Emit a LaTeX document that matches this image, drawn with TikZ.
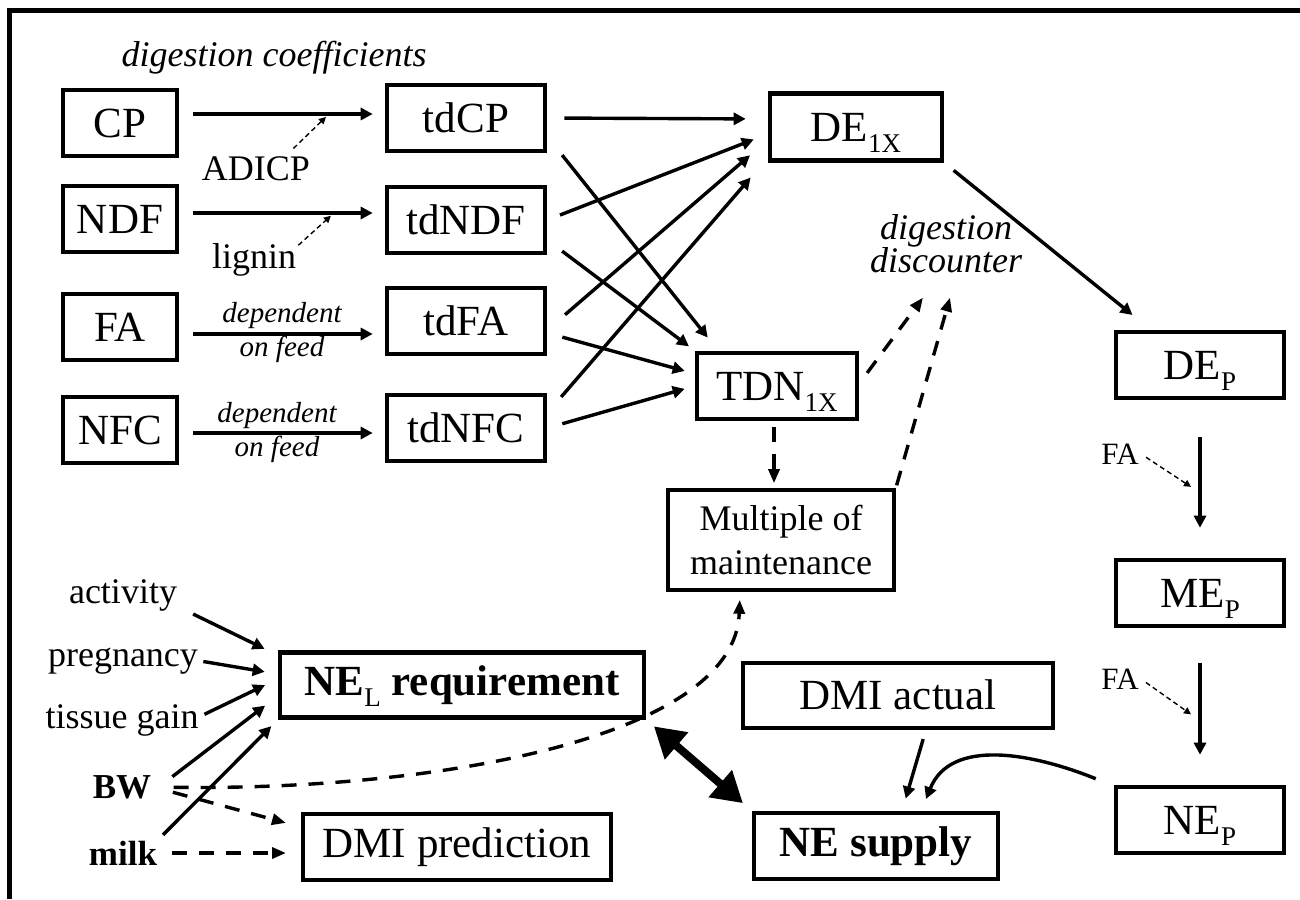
\documentclass[tikz,border=0pt]{standalone}
\usepackage{fontspec}
\setmainfont{Liberation Serif}
\usetikzlibrary{calc, positioning, arrows.meta}
\newcommand{\lowtag}[1]{\raisebox{-5.5pt}[0pt][0pt]{\fontsize{13.5}{13.5}\selectfont #1}}

\begin{document}
\begin{tikzpicture}
      [x=0.5pt, y=-0.5pt, text centered,
       box/.style={draw, rectangle, line width=2.3pt, inner sep=0pt, minimum height=33pt, align=center, font=\fontsize{21.5}{24}\selectfont},
       feed/.style={box, minimum width=57pt},
       digest/.style={box, minimum width=79pt},
       energy/.style={box, minimum width=84pt},
       lbl/.style={inner sep=1pt, font=\fontsize{18}{20}\selectfont},
       ilbl/.style={inner sep=1pt, align=center, font=\fontsize{18}{16.5}\selectfont\itshape},
       blbl/.style={inner sep=1pt, font=\fontsize{17.5}{20}\selectfont\bfseries},
       note/.style={inner sep=0pt, align=center, font=\fontsize{14.5}{17}\selectfont\itshape},
       falbl/.style={inner sep=1pt, font=\fontsize{15.5}{17}\selectfont},
       arr/.style={-{Triangle[length=6pt, width=6pt]}, line width=1.7pt},
       darr/.style={-{Triangle[length=7pt, width=5.5pt]}, line width=1.7pt, dash pattern=on 7.5pt off 6pt},
       hint/.style={-{Triangle[length=3.5pt, width=3.5pt]}, line width=0.7pt, dash pattern=on 2.5pt off 1.7pt},
       both/.style={{Triangle[length=15pt, width=17pt]}-{Triangle[length=15pt, width=17pt]}, line width=4pt}]

      \useasboundingbox (0,0) rectangle (1300,899);

      % frame
      \draw[line width=2.75pt] (9.5,899) -- (9.5,10.5) -- (1300,10.5);

      %nodes
      \node[feed] (cp)  at (120,123) {CP};
      \node[feed] (ndf) at (120,219) {NDF};
      \node[feed] (fa)  at (120,327) {FA};
      \node[feed] (nfc) at (120,430) {NFC};

      \node[digest] (tdcp)  at (466,118) {tdCP};
      \node[digest] (tdndf) at (466,220) {tdNDF};
      \node[digest] (tdfa)  at (466,321) {tdFA};
      \node[digest] (tdnfc) at (466,428) {tdNFC};

      \node[box, minimum width=86pt, minimum height=33.5pt] (de1x) at (856,127) {DE\lowtag{1X}};
      \node[box, minimum width=80pt] (tdn) at (777,386) {TDN\lowtag{1X}};
      \node[box, minimum width=113pt, minimum height=50pt, line width=1.8pt, font=\fontsize{18}{22}\selectfont] (mult) at (781,540) {Multiple of\\maintenance};

      \node[energy] (dep) at (1200,365) {DE\lowtag{P}};
      \node[energy] (mep) at (1200,593) {ME\lowtag{P}};
      \node[energy] (nep) at (1200,820) {NE\lowtag{P}};

      \node[box, minimum width=182pt, minimum height=32.5pt, font=\fontsize{21.5}{24}\selectfont\bfseries] (nel) at (462,685) {NE\lowtag{\mdseries L} requirement};
      \node[box, minimum width=155pt, minimum height=32.5pt, line width=2pt] (dmiact) at (898,695) {DMI actual};
      \node[box, minimum width=154pt, line width=2pt] (dmipred) at (457,847) {DMI prediction};
      \node[box, minimum width=122pt, line width=2pt, font=\fontsize{21.5}{24}\selectfont\bfseries] (nesup) at (876,846) {NE supply};

      % labels
      \node[ilbl] (digcoef) at (274,58) {digestion coefficients};
      \node[lbl] (adicp) at (256,169) {ADICP};
      \node[lbl] (lignin) at (254,260) {lignin};
      \node[note] (depfa) at (282,333) {dependent\\on feed};
      \node[note] (depnfc) at (277,433) {dependent\\on feed};
      \node[ilbl] (digdisc) at (946,244) {digestion\\discounter};
      \node[falbl] (faA) at (1120,454) {FA};
      \node[falbl] (faB) at (1120,679) {FA};

      \node[lbl] (activity) at (123,595) {activity};
      \node[lbl] (pregnancy) at (123,661) {pregnancy};
      \node[lbl] (tissue) at (122,720) {tissue gain};
      \node[blbl] (bw) at (122,787) {BW};
      \node[blbl] (milk) at (123,853) {milk};

      % edges %
      \draw[arr, shorten <=7pt, shorten >=6pt] ([yshift=4.5pt]cp.east) -- ([yshift=4.5pt]cp.east -| tdcp.west);
      \draw[arr, shorten <=7pt, shorten >=6pt] ([yshift=3pt]ndf.east) -- ([yshift=3pt]ndf.east -| tdndf.west);
      \draw[arr, shorten <=7pt, shorten >=6pt] ([yshift=-3.5pt]fa.east) -- ([yshift=-3.5pt]fa.east -| tdfa.west);
      \draw[arr, shorten <=7pt, shorten >=6pt] ([yshift=-1.5pt]nfc.east) -- ([yshift=-1.5pt]nfc.east -| tdnfc.west);

      \draw[hint] ([xshift=-9.5pt,yshift=3pt]adicp.north east) -- ($(cp.east)!0.714!(tdcp.west)+(0,-2.5)$);
      \draw[hint] ([yshift=-2pt]lignin.north east) -- ($(ndf.east)!0.738!(tdndf.west)+(0,-4)$);

      \draw[arr, shorten <=8.5pt, shorten >=11pt] (tdcp.east) -- ([yshift=4pt]de1x.west);
      \draw[arr, shorten <=6.8pt, shorten >=7.5pt] (tdndf.east) -- ([yshift=-3.5pt]de1x.west);
      \draw[arr, shorten <=11.7pt, shorten >=11.7pt] ([yshift=-4.5pt]tdfa.east) -- ([yshift=-6.5pt]de1x.west);
      \draw[arr, shorten <=10.6pt, shorten >=13pt] ([yshift=7.5pt]tdnfc.east) -- ([yshift=2.5pt]de1x.south west);

      \draw[arr, shorten <=11.9pt, shorten >=8.4pt] ([yshift=-9.25pt]tdcp.east) -- ([xshift=11.75pt]tdn.north west);
      \draw[arr, shorten <=9.3pt, shorten >=3.6pt] ([yshift=-10pt]tdndf.east) -- (tdn.north west);
      \draw[arr, shorten <=7.8pt, shorten >=5.2pt] ([yshift=-6pt]tdfa.east) -- ([yshift=6.15pt]tdn.west);
      \draw[arr, shorten <=7.8pt, shorten >=5.2pt] (tdnfc.east) -- (tdn.west);

      \draw[arr, shorten <=6pt, shorten >=11.7pt] (de1x.south east) -- ([xshift=18.5pt]dep.north west);
      \draw[darr, shorten <=6.6pt] ([yshift=1.25pt]tdn.east) -- ([xshift=-11.5pt,yshift=-11pt]digdisc.south);
      \draw[darr, shorten <=1.5pt] (mult.north east) -- ([xshift=2pt,yshift=-11pt]digdisc.south);
      \draw[darr, shorten <=3pt, shorten >=2.5pt] ([xshift=-1.5pt]tdn.south) -- ([xshift=-1.5pt]tdn.south |- mult.north);

      \draw[arr, shorten <=18.5pt, shorten >=15pt] (dep) -- (mep);
      \draw[arr, shorten <=17.5pt, shorten >=15pt] (mep) -- (nep);
      \draw[hint, shorten <=3pt] (faA.east) -- ($(dep.south)!0.55!(mep.north)+(-9,0)$);
      \draw[hint, shorten <=3pt] (faB.east) -- ($(mep.south)!0.55!(nep.north)+(-9,0)$);

      \draw[arr, shorten <=5pt, shorten >=6.5pt] ([xshift=14pt]dmiact.south) -- ([xshift=13pt]nesup.north);
      \draw[arr] ([xshift=-9pt,yshift=3pt]nep.north west) to[out=158, in=68] ([xshift=25pt,yshift=6pt]nesup.north);
      \draw[both, shorten <=5pt, shorten >=6pt] (nel.south east) -- (nesup.north west);

      \draw[arr, shorten <=1pt, shorten >=7.3pt] ([xshift=6pt]activity.south east) -- ([yshift=-2.5pt]nel.north west);
      \draw[arr, shorten <=1.5pt, shorten >=6.6pt] (pregnancy.east) -- ([yshift=5.5pt]nel.west);
      \draw[arr, shorten <=2pt, shorten >=7pt] ([yshift=2pt]tissue.east) -- ([yshift=3pt]nel.west);
      \draw[arr, shorten <=11.8pt, shorten >=7.9pt] ([yshift=-2pt]bw.east) -- ([yshift=-5.5pt]nel.west);
      \draw[arr, shorten <=2.5pt, shorten >=4.5pt] (milk.north east) -- (nel.south west);

      \draw[darr, shorten <=10pt, shorten >=4pt] (bw.east) .. controls +(278,4) and +(-5,147) .. ([xshift=-20.5pt]mult.south);
      \draw[darr, shorten <=10pt, shorten >=7.8pt] (bw.east) -- ([yshift=10pt]dmipred.west);
      \draw[darr, shorten <=6.5pt, shorten >=7.5pt] (milk.east) -- (milk.east -| dmipred.west);
    \end{tikzpicture}
\end{document}
